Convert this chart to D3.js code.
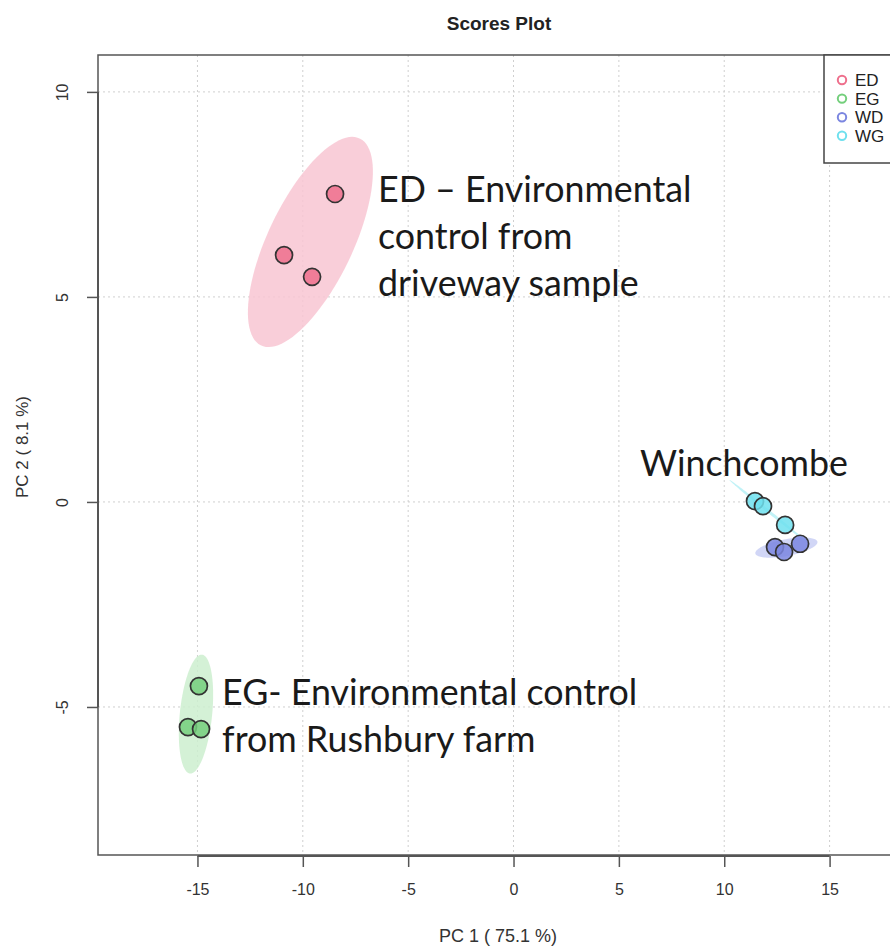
<!DOCTYPE html>
<html>
<head>
<meta charset="utf-8">
<script src="https://cdn.jsdelivr.net/npm/d3@7"></script>
<style>
  body { margin: 0; background: #fff; }
  svg { display: block; }
</style>
</head>
<body>
<div id="vis"></div>
<script>
// groups and their scores
var groups = ['ED', 'EG', 'WD', 'WG'];
var pc1 = {
  ED: [-8.47, -10.89, -9.56],
  EG: [-14.93, -15.45, -14.83],
  WD: [12.41, 12.84, 13.60],
  WG: [11.46, 11.84, 12.89]
};
var pc2 = {
  ED: [7.51, 6.02, 5.49],
  EG: [-4.49, -5.49, -5.54],
  WD: [-1.10, -1.22, -1.02],
  WG: [0.02, -0.10, -0.56]
};
var xTicks = [-15, -10, -5, 0, 5, 10, 15];
var yTicks = [-5, 0, 5, 10];
var title = 'Scores Plot';
var xLabel = 'PC 1 ( 75.1 %)';
var yLabel = 'PC 2 ( 8.1 %)';

// the annotations typed on top of the plot
var notes = [
  {lines: ['ED \u2013 Environmental', 'control from', 'driveway sample'], x: -6.43, y: 7.32},
  {lines: ['Winchcombe'], x: 6.0, y: 0.63},
  {lines: ['EG- Environmental control', 'from Rushbury farm'], x: -13.83, y: -4.95}
];

var width = 890, height = 947;

var colors = d3.scaleOrdinal()
  .domain(groups)
  .range(['#ee6f8c', '#74cf7c', '#7b86e0', '#6fe0ee']);
var ellipseFill = d3.scaleOrdinal()
  .domain(groups)
  .range(['#f8c6d2', '#cdeecf', '#c9cff5', '#b6f0f6']);

var x = d3.scaleLinear().domain([-19.72, 20.24]).range([98, 940]);
var y = d3.scaleLinear().domain([-8.61, 10.9]).range([855, 55]);

var svg = d3.select('#vis').append('svg')
  .attr('width', width)
  .attr('height', height);

// grid, dotted
svg.append('g').selectAll('line')
  .data(xTicks)
  .enter().append('line')
  .attr('x1', function(d) { return x(d); })
  .attr('x2', function(d) { return x(d); })
  .attr('y1', y.range()[1])
  .attr('y2', y.range()[0])
  .attr('stroke', '#cfcfcf')
  .attr('stroke-dasharray', '2,3');
svg.append('g').selectAll('line')
  .data(yTicks)
  .enter().append('line')
  .attr('x1', x.range()[0])
  .attr('x2', x.range()[1])
  .attr('y1', function(d) { return y(d); })
  .attr('y2', function(d) { return y(d); })
  .attr('stroke', '#cfcfcf')
  .attr('stroke-dasharray', '2,3');

// 95% confidence ellipse from the group covariance
function ellipsePoints(g) {
  var xs = pc1[g], ys = pc2[g], n = xs.length;
  var mx = d3.mean(xs), my = d3.mean(ys);
  var sxx = 0, syy = 0, sxy = 0;
  for (var i = 0; i < n; i++) {
    sxx += (xs[i] - mx) * (xs[i] - mx);
    syy += (ys[i] - my) * (ys[i] - my);
    sxy += (xs[i] - mx) * (ys[i] - my);
  }
  sxx /= n - 1; syy /= n - 1; sxy /= n - 1;
  var tr = sxx + syy, det = sxx * syy - sxy * sxy;
  var disc = Math.sqrt(Math.max(tr * tr / 4 - det, 0));
  var l1 = tr / 2 + disc, l2 = Math.max(tr / 2 - disc, 0);
  var theta = Math.atan2(l1 - sxx, sxy);
  if (Math.abs(sxy) < 1e-12) theta = sxx >= syy ? 0 : Math.PI / 2;
  var t = Math.sqrt(-2 * Math.log(0.05)); // sqrt(qchisq(.95, 2))
  var a = t * Math.sqrt(l1), b = t * Math.sqrt(l2);
  var pts = [];
  for (var k = 0; k < 100; k++) {
    var s = 2 * Math.PI * k / 100;
    pts.push([
      mx + a * Math.cos(theta) * Math.cos(s) - b * Math.sin(theta) * Math.sin(s),
      my + a * Math.sin(theta) * Math.cos(s) + b * Math.cos(theta) * Math.sin(s)
    ]);
  }
  return pts;
}

var line = d3.line()
  .x(function(d) { return x(d[0]); })
  .y(function(d) { return y(d[1]); })
  .curve(d3.curveLinearClosed);

svg.append('g').selectAll('path')
  .data(groups)
  .enter().append('path')
  .attr('d', function(g) { return line(ellipsePoints(g)); })
  .attr('fill', function(g) { return ellipseFill(g); })
  .attr('fill-opacity', 0.85)
  .attr('stroke', 'none');

// points
var nodes = [];
groups.forEach(function(g) {
  pc1[g].forEach(function(v, i) { nodes.push({group: g, x: v, y: pc2[g][i]}); });
});
svg.append('g').selectAll('circle')
  .data(nodes)
  .enter().append('circle')
  .attr('cx', function(d) { return x(d.x); })
  .attr('cy', function(d) { return y(d.y); })
  .attr('r', 8.5)
  .attr('fill', function(d) { return colors(d.group); })
  .attr('fill-opacity', 0.85)
  .attr('stroke', '#333')
  .attr('stroke-width', 1.7);

// plot box
svg.append('rect')
  .attr('x', x.range()[0])
  .attr('y', y.range()[1])
  .attr('width', x.range()[1] - x.range()[0])
  .attr('height', y.range()[0] - y.range()[1])
  .attr('fill', 'none')
  .attr('stroke', '#555')
  .attr('stroke-width', 1.5);

// axes, R style: line only spans the ticks
var xAxis = svg.append('g')
  .attr('transform', 'translate(0,' + (y.range()[0] + 1) + ')')
  .call(d3.axisBottom(x).tickValues(xTicks).tickSize(11).tickPadding(17)
    .tickFormat(function(d) { return String(d); }));
xAxis.select('.domain').remove();
xAxis.append('line')
  .attr('x1', x(xTicks[0])).attr('x2', x(xTicks[xTicks.length - 1]))
  .attr('stroke', '#555').attr('stroke-width', 2);
xAxis.selectAll('.tick line').attr('stroke', '#555').attr('stroke-width', 1.5);
xAxis.selectAll('.tick text')
  .attr('fill', '#333')
  .style('font-family', '"Liberation Sans", Arial, sans-serif')
  .style('font-size', '16px');

var yAxis = svg.append('g')
  .attr('transform', 'translate(' + (x.range()[0]) + ',0)')
  .call(d3.axisLeft(y).tickValues(yTicks).tickSize(11).tickPadding(0)
    .tickFormat(function(d) { return String(d); }));
yAxis.select('.domain').remove();
yAxis.append('line')
  .attr('y1', y(yTicks[0])).attr('y2', y(yTicks[yTicks.length - 1]))
  .attr('stroke', '#555').attr('stroke-width', 2);
yAxis.selectAll('.tick line').attr('stroke', '#555').attr('stroke-width', 1.5);
yAxis.selectAll('.tick text')
  .attr('x', 0).attr('dy', null)
  .attr('fill', '#333')
  .attr('text-anchor', 'middle')
  .attr('transform', 'translate(-30,0) rotate(-90)')
  .style('font-family', '"Liberation Sans", Arial, sans-serif')
  .style('font-size', '16px');

// titles
svg.append('text')
  .attr('x', 499).attr('y', 30)
  .attr('text-anchor', 'middle')
  .style('font-family', '"Liberation Sans", Arial, sans-serif')
  .style('font-weight', 'bold')
  .style('font-size', '19px')
  .attr('fill', '#222')
  .text(title);
svg.append('text')
  .attr('x', 498).attr('y', 942)
  .attr('text-anchor', 'middle')
  .style('font-family', '"Liberation Sans", Arial, sans-serif')
  .style('font-size', '18px')
  .attr('fill', '#333')
  .text(xLabel);
svg.append('text')
  .attr('transform', 'translate(28,447) rotate(-90)')
  .attr('text-anchor', 'middle')
  .style('font-family', '"Liberation Sans", Arial, sans-serif')
  .style('font-size', '17px')
  .attr('fill', '#333')
  .text(yLabel);

// legend
var legend = svg.append('g').attr('transform', 'translate(824,55)');
legend.append('rect')
  .attr('width', 120).attr('height', 108)
  .attr('fill', '#fff')
  .attr('stroke', '#444').attr('stroke-width', 1.5);
var items = legend.selectAll('.item')
  .data(groups)
  .enter().append('g')
  .attr('class', 'item')
  .attr('transform', function(d, i) { return 'translate(0,' + (25 + i * 18.6) + ')'; });
items.append('circle')
  .attr('cx', 18).attr('r', 4.2)
  .attr('fill', 'none')
  .attr('stroke', function(d) { return colors(d); })
  .attr('stroke-width', 2);
items.append('text')
  .attr('x', 31).attr('dy', '0.35em')
  .style('font-family', '"Liberation Sans", Arial, sans-serif')
  .style('font-size', '17px')
  .attr('fill', '#222')
  .text(function(d) { return d; });

// annotations
notes.forEach(function(n) {
  var t = svg.append('text')
    .attr('x', x(n.x)).attr('y', y(n.y))
    .style('font-family', 'Lato, "Open Sans", sans-serif')
    .style('font-size', '35.8px')
    .attr('fill', '#1a1a1a');
  n.lines.forEach(function(l, i) {
    t.append('tspan')
      .attr('x', x(n.x))
      .attr('dy', i === 0 ? 0 : 47)
      .text(l);
  });
});
</script>
</body>
</html>
